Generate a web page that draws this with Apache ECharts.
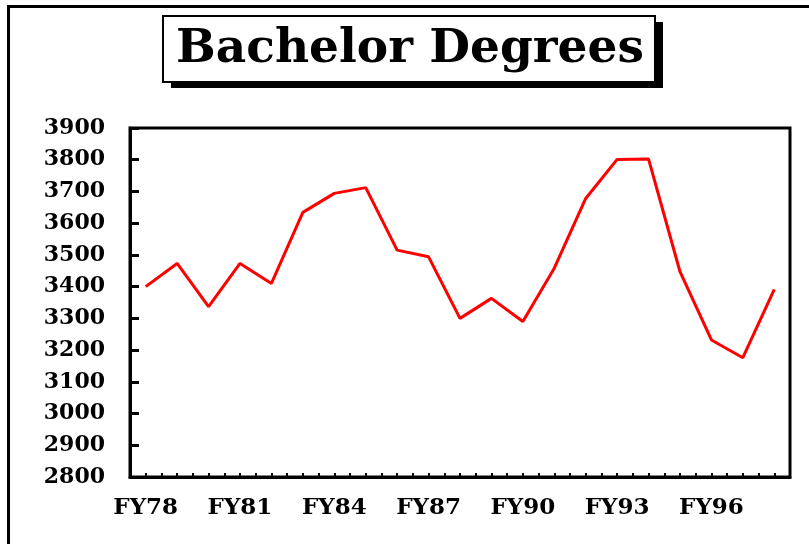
<!DOCTYPE html>
<html>
<head>
<meta charset="utf-8">
<script src="https://cdn.jsdelivr.net/npm/echarts@6/dist/echarts.min.js"></script>
<style>
html,body{margin:0;padding:0;background:#fff;}
#chart{width:809px;height:544px;}
</style>
</head>
<body>
<div id="chart"></div>
<script>
const titleText = 'Bachelor Degrees';
const categories = ['FY78','FY79','FY80','FY81','FY82','FY83','FY84','FY85','FY86','FY87','FY88','FY89','FY90','FY91','FY92','FY93','FY94','FY95','FY96','FY97','FY98'];
const degrees = [3400, 3473, 3337, 3473, 3410, 3634, 3694, 3712, 3515, 3494, 3300, 3363, 3290, 3458, 3678, 3801, 3802, 3447, 3232, 3176, 3391];
const yMin = 2800, yMax = 3900, yStep = 100;

const FONT = '"DejaVu Serif", "Liberation Serif", serif';
const chart = echarts.init(document.getElementById('chart'), null, {renderer:'canvas'});
chart.setOption({
  animation: false,
  backgroundColor: '#fff',
  grid: {left: 130, top: 128, right: 19, bottom: 67, show: true, borderColor: '#000', borderWidth: 3, backgroundColor: 'transparent'},
  xAxis: [{
    type: 'category',
    data: categories,
    boundaryGap: true,
    axisLine: {show: true, lineStyle: {color: '#000', width: 3}},
    axisTick: {show: true, inside: true, length: 4, interval: 0, alignWithLabel: true, lineStyle: {color: '#000', width: 2}},
    axisLabel: {interval: 2, margin: 20, color: '#000', fontFamily: FONT, fontWeight: 'bold', fontSize: 23},
    splitLine: {show: false}
  }, {
    type: 'category',
    data: categories,
    position: 'bottom',
    boundaryGap: true,
    axisLine: {show: false},
    axisTick: {show: true, inside: true, length: 4, interval: 0, lineStyle: {color: '#000', width: 2}},
    axisLabel: {show: false},
    splitLine: {show: false}
  }],
  yAxis: {
    type: 'value',
    min: yMin, max: yMax, interval: yStep,
    axisLine: {show: true, lineStyle: {color: '#000', width: 3}},
    axisTick: {show: true, inside: true, length: 9, lineStyle: {color: '#000', width: 3}},
    axisLabel: {margin: 25, color: '#000', fontFamily: FONT, fontWeight: 'bold', fontSize: 22, formatter: function (v) { return String(v); }},
    splitLine: {show: false}
  },
  series: [{
    type: 'line',
    data: degrees,
    xAxisIndex: 0,
    showSymbol: false,
    symbol: 'none',
    lineStyle: {color: '#ff0000', width: 3},
    itemStyle: {color: '#ff0000'}
  }],
  graphic: [
    {type: 'line', shape: {x1: 8.5, y1: 5, x2: 8.5, y2: 544}, style: {stroke: '#000', lineWidth: 3}},
    {type: 'line', shape: {x1: 7, y1: 6.5, x2: 809, y2: 6.5}, style: {stroke: '#000', lineWidth: 3}},
    {type: 'rect', shape: {x: 171, y: 22, width: 492, height: 66}, style: {fill: '#000'}},
    {type: 'rect', shape: {x: 163, y: 16, width: 492, height: 66}, style: {fill: '#fff', stroke: '#000', lineWidth: 2}},
    {type: 'text', x: 410, y: 50, style: {text: titleText, fill: '#000', font: 'bold 47px ' + FONT, textAlign: 'center', textVerticalAlign: 'middle'}}
  ]
});
</script>
</body>
</html>
